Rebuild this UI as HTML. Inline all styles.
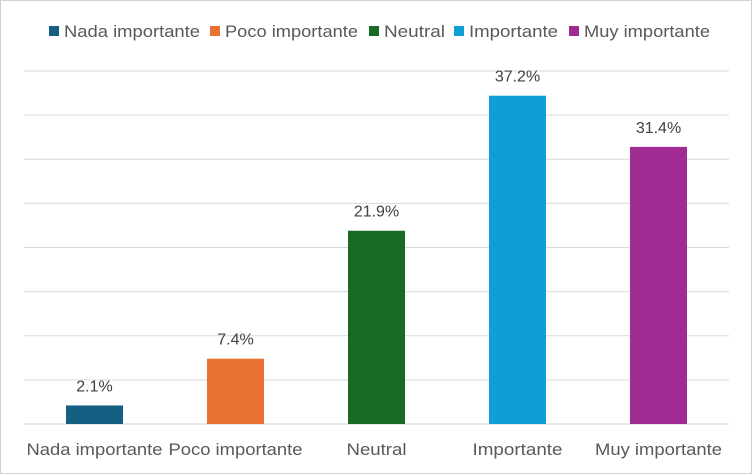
<!DOCTYPE html>
<html><head><meta charset="utf-8"><style>
body{margin:0;background:#fff;}
svg{display:block;font-family:"Liberation Sans",sans-serif;}
</style></head><body>
<svg id="c" width="752" height="474">
<rect x="0.5" y="0.5" width="751" height="473" fill="#fff" stroke="#d0d0d0"/>
<g id="grid"></g><g id="bars"></g><g id="legend"></g>
</svg>
<script>
const categories=["Nada importante","Poco importante","Neutral","Importante","Muy importante"];
const values=[2.1,7.4,21.9,37.2,31.4];
const valueLabels=["2.1%","7.4%","21.9%","37.2%","31.4%"];
const gridTicks=[0,5,10,15,20,25,30,35,40];
const colors=["#156082","#E97132","#196B24","#0F9ED5","#A02B93"];
const NS="http://www.w3.org/2000/svg";
const L=24,R=729,B=424,T=71,MAX=40;
const y=v=>B-(v/MAX)*(B-T);
const bw=(R-L)/categories.length;
const xc=i=>L+bw*(i+0.5);
function mk(t,a,p){const e=document.createElementNS(NS,t);for(const k in a)e.setAttribute(k,a[k]);p.appendChild(e);return e;}
const g=document.getElementById('grid');
gridTicks.forEach(t=>{const l=mk('line',{x1:L,x2:R,y1:y(t),y2:y(t),stroke:t===0?'#d0d0d0':'#d9d9d9','stroke-width':1},g);

});
const bg=document.getElementById('bars');
const axW=[136,134,60,90,127];
categories.forEach((c,i)=>{
const r=mk('rect',{x:xc(i)-28.5,y:y(values[i]),width:57,height:B-y(values[i]),fill:colors[i]},bg);


const t=mk('text',{x:xc(i),y:y(values[i])-14,'text-anchor':'middle','font-size':16,fill:'#404040'},bg);t.textContent=valueLabels[i];


const a=mk('text',{x:xc(i),y:455,'text-anchor':'middle','font-size':17,fill:'#595959',textLength:axW[i],lengthAdjust:'spacingAndGlyphs'},bg);a.textContent=c;


});
const lg=document.getElementById('legend');
const lx=[49,210,369,454,569];
const lw=[136,133,61,89,126];
categories.forEach((c,i)=>{
const s=mk('rect',{x:lx[i],y:26,width:10,height:10,fill:colors[i]},lg);


const t=mk('text',{x:lx[i]+15,y:37,'font-size':17,fill:'#595959',textLength:lw[i],lengthAdjust:'spacingAndGlyphs'},lg);t.textContent=c;


});
</script>
</body></html>
